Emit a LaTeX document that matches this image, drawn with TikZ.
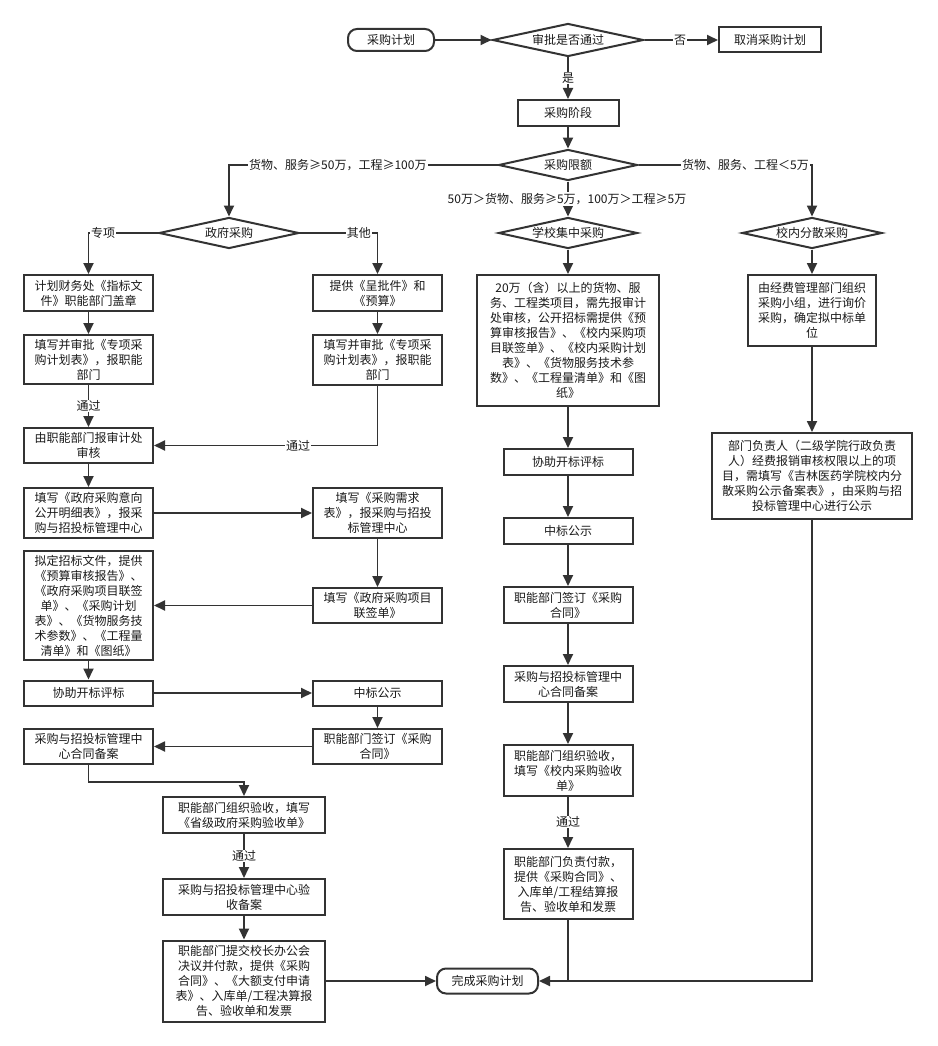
\documentclass[tikz,border=0pt]{standalone}
\usepackage{fontspec}
\setmainfont{Noto Sans CJK SC}
\usetikzlibrary{arrows.meta,shapes.geometric}
\definecolor{lc}{HTML}{333333}
\definecolor{tc}{HTML}{1A1A1A}
\newcommand\myfs{\fontsize{12}{15}\selectfont}
\tikzset{
  base/.style={font=\myfs, text=tc},
  box/.style={base, draw=lc, line width=2pt, fill=white, align=center, inner sep=0pt},
  term/.style={box, rounded corners=9pt},
  dia/.style={base, diamond, draw=lc, line width=2pt, fill=white, inner sep=0pt, shape aspect=4.5},
  lbl/.style={base, fill=white, inner sep=1pt},
  arr/.style={draw=lc, line width=1.8pt, -{Triangle[length=11pt,width=10pt]}},
  ln/.style={draw=lc, line width=1.8pt},
}
\begin{document}
\begin{tikzpicture}[x=1pt,y=-1pt]
\useasboundingbox[fill=white] (0,0) rectangle (937,1046);

% top
\node[term, minimum width=86pt, minimum height=22pt] (start) at (391,40) {采购计划};
\node[dia, minimum width=151pt, minimum height=33pt] (d1) at (568,40) {审批是否通过};
\node[box, minimum width=102pt, minimum height=25pt] (cancel) at (770,40) {取消采购计划};
\node[box, minimum width=101pt, minimum height=26pt] (stage) at (568,113) {采购阶段};
\node[dia, minimum width=139pt, minimum height=31pt] (d2) at (568,165) {采购限额};
\node[dia, minimum width=140pt, minimum height=31pt] (dgov) at (229,233) {政府采购};
\node[dia, minimum width=139pt, minimum height=31pt] (dsch) at (568,233) {学校集中采购};
\node[dia, minimum width=140pt, minimum height=31pt] (dloc) at (812,233) {校内分散采购};

% left column
\node[box, minimum width=129pt, minimum height=36pt] (L1) at (88.5,293) {计划财务处《指标文\\件》职能部门盖章};
\node[box, minimum width=129pt, minimum height=49pt] (L2) at (88.5,359.5) {填写并审批《专项采\\购计划表》，报职能\\部门};
\node[box, minimum width=129pt, minimum height=35pt] (L3) at (88.5,445.5) {由职能部门报审计处\\审核};
\node[box, minimum width=129pt, minimum height=50pt] (L4) at (88.5,513) {填写《政府采购意向\\公开明细表》，报采\\购与招投标管理中心};
\node[box, minimum width=129pt, minimum height=109pt] (L5) at (88.5,605.5) {拟定招标文件，提供\\《预算审核报告》、\\《政府采购项目联签\\单》、《采购计划\\表》、《货物服务技\\术参数》、《工程量\\清单》和《图纸》};
\node[box, minimum width=129pt, minimum height=25pt] (L6) at (88.5,693) {协助开标评标};
\node[box, minimum width=129pt, minimum height=35pt] (L7) at (88.5,746.5) {采购与招投标管理中\\心合同备案};

% second column
\node[box, minimum width=129pt, minimum height=36pt] (R1) at (377.5,293) {提供《呈批件》和\\《预算》};
\node[box, minimum width=129pt, minimum height=50pt] (R2) at (377.5,360) {填写并审批《专项采\\购计划表》，报职能\\部门};
\node[box, minimum width=129pt, minimum height=50pt] (R3) at (377.5,513) {填写《采购需求\\表》，报采购与招投\\标管理中心};
\node[box, minimum width=129pt, minimum height=35pt] (R4) at (377.5,605.5) {填写《政府采购项目\\联签单》};
\node[box, minimum width=129pt, minimum height=25pt] (R5) at (377.5,693) {中标公示};
\node[box, minimum width=129pt, minimum height=35pt] (R6) at (377.5,746.5) {职能部门签订《采购\\合同》};

% lower centre
\node[box, minimum width=162pt, minimum height=36pt] (C1) at (244,815) {职能部门组织验收，填写\\《省级政府采购验收单》};
\node[box, minimum width=162pt, minimum height=36pt] (C2) at (244,897) {采购与招投标管理中心验\\收备案};
\node[box, minimum width=162pt, minimum height=81pt] (C3) at (244,981) {职能部门提交校长办公会\\决议并付款，提供《采购\\合同》、《大额支付申请\\表》、入库单/工程决算报\\告、验收单和发票};
\node[term, minimum width=101pt, minimum height=25pt] (finish) at (487.5,981) {完成采购计划};

% middle column
\node[box, minimum width=182pt, minimum height=131pt] (M1) at (568,340.5) {20万（含）以上的货物、服\\务、工程类项目，需先报审计\\处审核，公开招标需提供《预\\算审核报告》、《校内采购项\\目联签单》、《校内采购计划\\表》、《货物服务技术参\\数》、《工程量清单》和《图\\纸》};
\node[box, minimum width=129pt, minimum height=26pt] (M2) at (568,462) {协助开标评标};
\node[box, minimum width=129pt, minimum height=26pt] (M3) at (568,531) {中标公示};
\node[box, minimum width=129pt, minimum height=36pt] (M4) at (568,605) {职能部门签订《采购\\合同》};
\node[box, minimum width=129pt, minimum height=36pt] (M5) at (568,684) {采购与招投标管理中\\心合同备案};
\node[box, minimum width=129pt, minimum height=51pt] (M6) at (568,770.5) {职能部门组织验收，\\填写《校内采购验收\\单》};
\node[box, minimum width=129pt, minimum height=70pt] (M7) at (568,884) {职能部门负责付款，\\提供《采购合同》、\\入库单/工程结算报\\告、验收单和发票};

% right column
\node[box, minimum width=128pt, minimum height=71pt] (Q1) at (812,310.5) {由经费管理部门组织\\采购小组，进行询价\\采购，确定拟中标单\\位};
\node[box, minimum width=200pt, minimum height=86pt] (Q2) at (812,476) {部门负责人（二级学院行政负责\\人）经费报销审核权限以上的项\\目，需填写《吉林医药学院校内分\\散采购公示备案表》，由采购与招\\投标管理中心进行公示};

\coordinate (jn) at (568,981);

% connectors: top
\draw[arr] (start.east) -- (d1.west);
\draw[arr] (d1.east) -- (cancel.west);
\node[lbl] (lno) at (680,40) {否};
\draw[arr] (d1.south) -- (stage.north);
\node[lbl] (lyes) at (568,78) {是};
\draw[arr] (stage.south) -- (d2.north);
\draw[arr] (d2.west) -| (dgov.north);
\node[lbl, anchor=west] (lbig) at (248,165) {货物、服务≥50万，工程≥100万};
\draw[arr] (d2.east) -| (dloc.north);
\node[lbl, anchor=east] (lsmall) at (810,165) {货物、服务、工程＜5万};
\draw[arr] (d2.south) -- (dsch.north);
\node[lbl] (lmid) at (567,199) {50万＞货物、服务≥5万，100万＞工程≥5万};

% government branch
\draw[arr] (dgov.west) -| (L1.north);
\node[lbl, anchor=west] (lzx) at (90,233) {专项};
\draw[arr] (dgov.east) -| (R1.north);
\node[lbl, anchor=east] (lqt) at (372,233) {其他};
\draw[arr] (L1.south) -- (L2.north);
\draw[arr] (L2.south) -- (L3.north);
\node[lbl] (ltg1) at (88.5,406) {通过};
\draw[arr] (R1.south) -- (R2.north);
\draw[arr] (R2.south) |- (L3.east);
\node[lbl] (ltg2) at (298,446) {通过};
\draw[arr] (L3.south) -- (L4.north);
\draw[arr] (L4.east) -- (R3.west);
\draw[arr] (R3.south) -- (R4.north);
\draw[arr] (R4.west) -- (L5.east);
\draw[arr] (L5.south) -- (L6.north);
\draw[arr] (L6.east) -- (R5.west);
\draw[arr] (R5.south) -- (R6.north);
\draw[arr] (R6.west) -- (L7.east);
\draw[arr] (L7.south) -- ++(0,17) -| (C1.north);
\draw[arr] (C1.south) -- (C2.north);
\node[lbl] (ltg3) at (244,856) {通过};
\draw[arr] (C2.south) -- (C3.north);
\draw[arr] (C3.east) -- (finish.west);

% school branch
\draw[arr] (dsch.south) -- (M1.north);
\draw[arr] (M1.south) -- (M2.north);
\draw[arr] (M2.south) -- (M3.north);
\draw[arr] (M3.south) -- (M4.north);
\draw[arr] (M4.south) -- (M5.north);
\draw[arr] (M5.south) -- (M6.north);
\draw[arr] (M6.south) -- (M7.north);
\node[lbl] (ltg4) at (568,822) {通过};
\draw[arr] (M7.south) |- (finish.east);

% local branch
\draw[arr] (dloc.south) -- (Q1.north);
\draw[arr] (Q1.south) -- (Q2.north);
\draw[ln] (Q2.south) |- (jn);
\end{tikzpicture}
\end{document}
